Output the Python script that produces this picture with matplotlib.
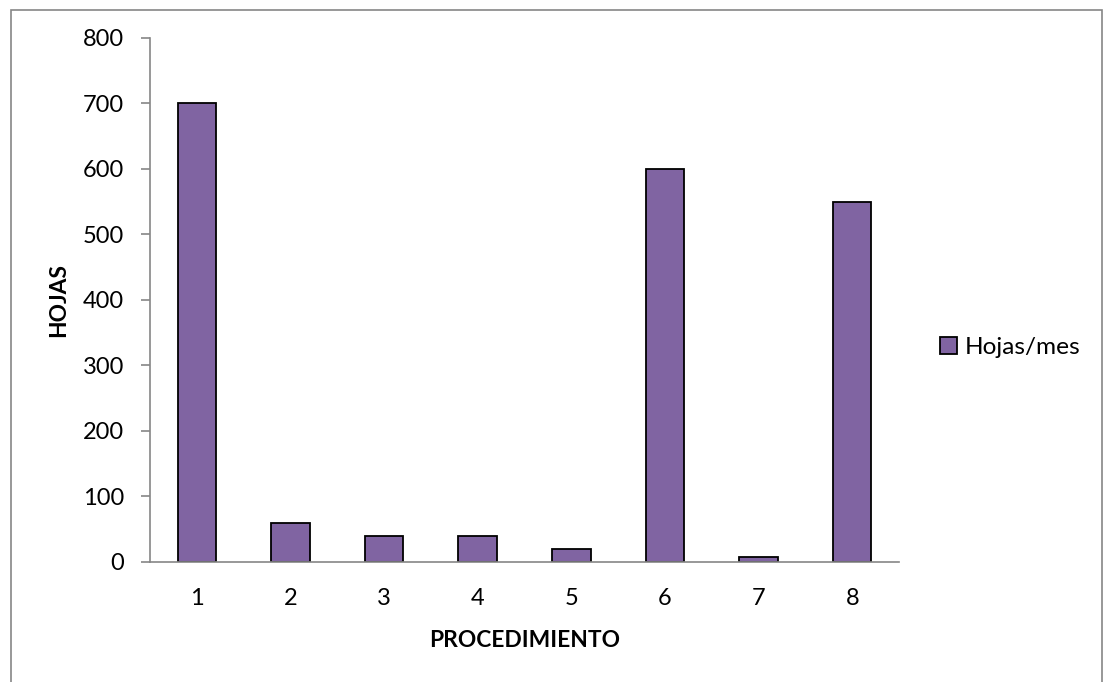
import matplotlib
matplotlib.use("Agg")
import matplotlib.pyplot as plt
from matplotlib.patches import Rectangle, Patch

# datos del grafico
procedimientos = ["1", "2", "3", "4", "5", "6", "7", "8"]
hojas_mes = [700, 60, 40, 40, 20, 600, 8, 550]
y_ticks = [0, 100, 200, 300, 400, 500, 600, 700, 800]

plt.rcParams['font.family'] = ['Lato', 'DejaVu Sans']

fig = plt.figure(figsize=(11.05, 6.82), dpi=100)
ax = fig.add_axes([0.1357, 0.176, 0.8136 - 0.1357, 0.9447 - 0.176])

posiciones = range(1, len(procedimientos) + 1)
ax.bar(posiciones, hojas_mes, width=0.41, color='#8064A2',
       edgecolor='black', linewidth=1.3, zorder=2)

ax.set_xlim(0.5, len(procedimientos) + 0.5)
ax.set_ylim(0, 800)
ax.set_yticks(y_ticks)
ax.set_xticks(list(posiciones))
ax.set_xticklabels(procedimientos)

for s in ['top', 'right']:
    ax.spines[s].set_visible(False)
for s in ['left', 'bottom']:
    ax.spines[s].set_color('#868686')
    ax.spines[s].set_linewidth(1.2)

ax.tick_params(axis='y', length=6.5, width=1.2, color='#868686',
               labelsize=17, pad=12)
ax.tick_params(axis='x', length=0, labelsize=17, pad=19)

ax.set_xlabel('PROCEDIMIENTO', fontsize=16.4, fontweight='bold', labelpad=15)
ax.set_ylabel('HOJAS', fontsize=16.4, fontweight='bold', labelpad=10)

leyenda = [Patch(facecolor='#8064A2', edgecolor='black', linewidth=1.3,
                 label='Hojas/mes')]
fig.legend(handles=leyenda, loc='center left',
           bbox_to_anchor=(0.851, 0.491), frameon=False, fontsize=17.6,
           handlelength=0.7, handleheight=0.7, handletextpad=0.3,
           borderpad=0, borderaxespad=0)

# borde del grafico (el borde inferior queda fuera de la imagen)
fig.patches.append(Rectangle((0.01, -0.02), 0.987, 1.006,
                             transform=fig.transFigure, fill=False,
                             edgecolor='#868686', linewidth=1.2))

fig.savefig('out.png', dpi=100)
